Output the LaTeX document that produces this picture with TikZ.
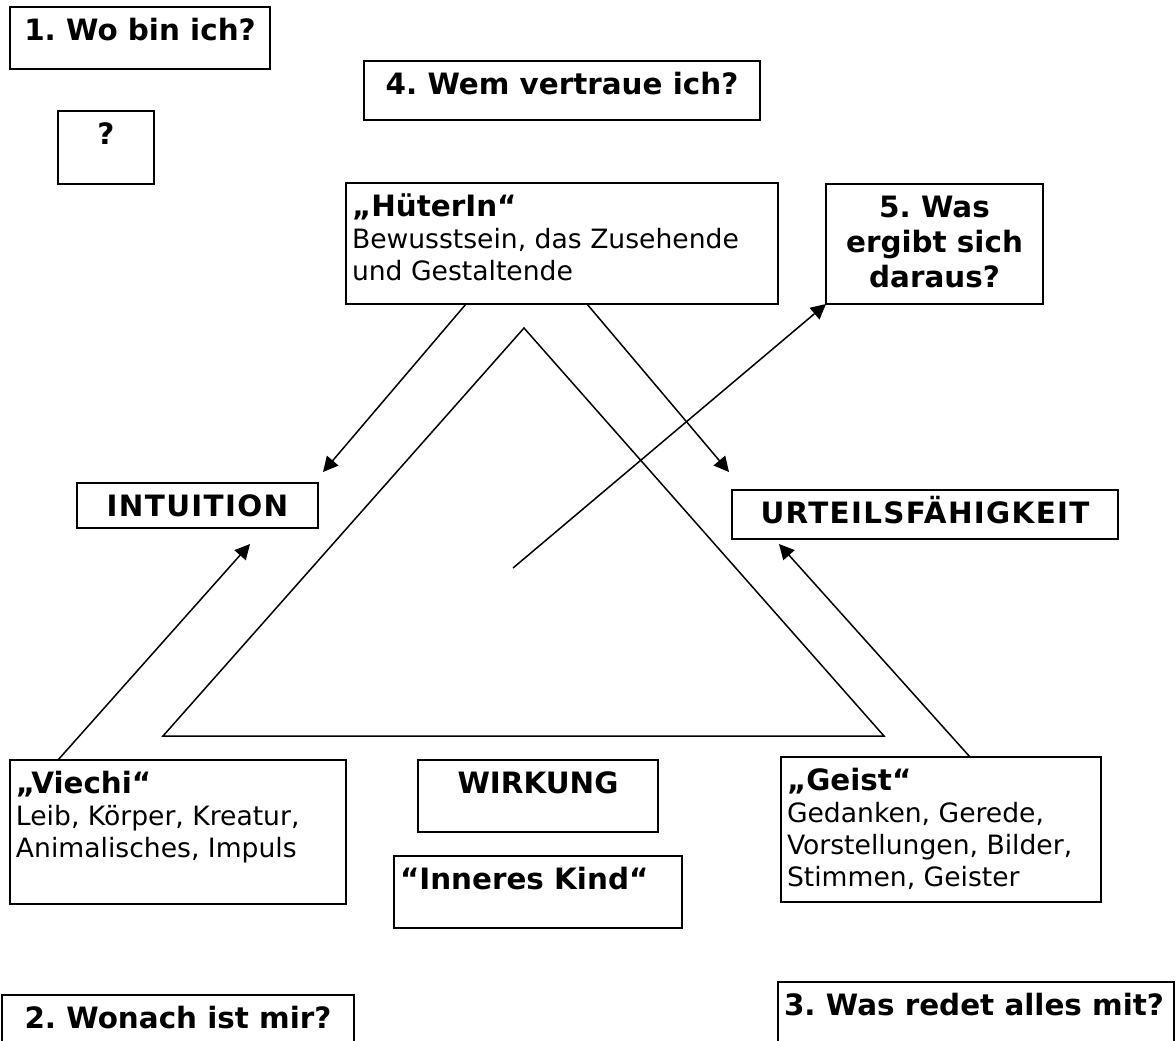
\documentclass[tikz,border=0pt]{standalone}
\usepackage{fontspec}
\setmainfont{DejaVu Sans}
\usetikzlibrary{arrows.meta}
\frenchspacing
\newcommand{\hd}{\fontsize{14.7}{17.5}\selectfont\bfseries}
\newcommand{\tx}{\fontsize{13.3}{16}\selectfont\mdseries}
\newcommand{\wide}{\addfontfeature{LetterSpace=4.5}}
\newcommand{\inbox}[4]{\parbox[t][\dimexpr#2pt/2-3pt\relax][t]{\dimexpr#1pt/2-6pt\relax}{#3\rule{0pt}{15pt}#4}}

\begin{document}
\begin{tikzpicture}[x=0.5pt, y=-0.5pt, line width=0.75pt,
  >={Triangle[length=7.5pt,width=7.5pt]},
  box/.style={draw, line width=1pt, inner xsep=3pt, inner ysep=1.5pt, outer sep=0pt, anchor=north west}]
\useasboundingbox (0,0) rectangle (1176,1040);
%
\draw (10,7) node[box] (where) {\inbox{260}{62}{\centering\hd}{1. Wo bin ich?}};
\draw (58,111) node[box] (unknown) {\inbox{96}{73}{\centering\hd}{?}};
\draw (364,61) node[box] (trust) {\inbox{396}{59}{\centering\hd}{4. Wem vertraue ich?}};
\draw (346,183) node[box] (huter) {\inbox{432}{121}{\raggedright}{{\hd „HüterIn“}\\\tx Bewusstsein, das Zusehende\\und Gestaltende}};
\draw (826,184) node[box] (result) {\inbox{217}{120}{\centering\hd}{5. Was\\ergibt sich\\daraus?}};
%
\draw (77,483) node[box] (intuition) {\inbox{241}{45}{\centering\hd\wide}{INTUITION}};
\draw (732,490) node[box] (judgement) {\inbox{386}{49}{\centering\hd\wide}{URTEILSFÄHIGKEIT}};
%
\draw (10,760) node[box] (viechi) {\inbox{336}{144}{\raggedright}{{\hd „Viechi“}\\\tx Leib, Körper, Kreatur,\\Animalisches, Impuls}};
\draw (418,760) node[box] (effect) {\inbox{240}{72}{\centering\hd}{WIRKUNG}};
\draw (394,856) node[box] (child) {\inbox{288}{72}{\raggedright\hd}{“Inneres Kind“}};
\draw (781,757) node[box] (geist) {\inbox{320}{145}{\raggedright}{{\hd „Geist“}\\\tx Gedanken, Gerede,\\Vorstellungen, Bilder,\\Stimmen, Geister}};
%
\draw (2,995) node[box] (wish) {\inbox{352}{90}{\centering\hd}{2. Wonach ist mir?}};
\draw (778,982) node[box] (voices) {\inbox{396}{90}{\raggedright\hd}{3. Was redet alles mit?}};
%
\coordinate (top) at (524,328);
\coordinate (left) at (163,736);
\coordinate (right) at (884,736);
\draw (top) -- (left) -- (right) -- cycle;
%
\coordinate (mid) at (513,568);
\path[draw, ->] (mid) -- (result.south west);
%
\path[draw, ->] ([xshift=60pt]huter.south west) -- ([xshift=2.5pt,yshift=5.5pt]intuition.north east);
\path[draw, ->] ([xshift=-95.5pt]huter.south east) -- ([xshift=-1.5pt,yshift=9pt]judgement.north west);
\path[draw, ->] ([xshift=24pt]viechi.north west) -- ([xshift=86.5pt,yshift=-8pt]intuition.south west);
\path[draw, ->] ([xshift=94.5pt]geist.north west) -- ([xshift=23.5pt,yshift=-2.5pt]judgement.south west);
\end{tikzpicture}
\end{document}
